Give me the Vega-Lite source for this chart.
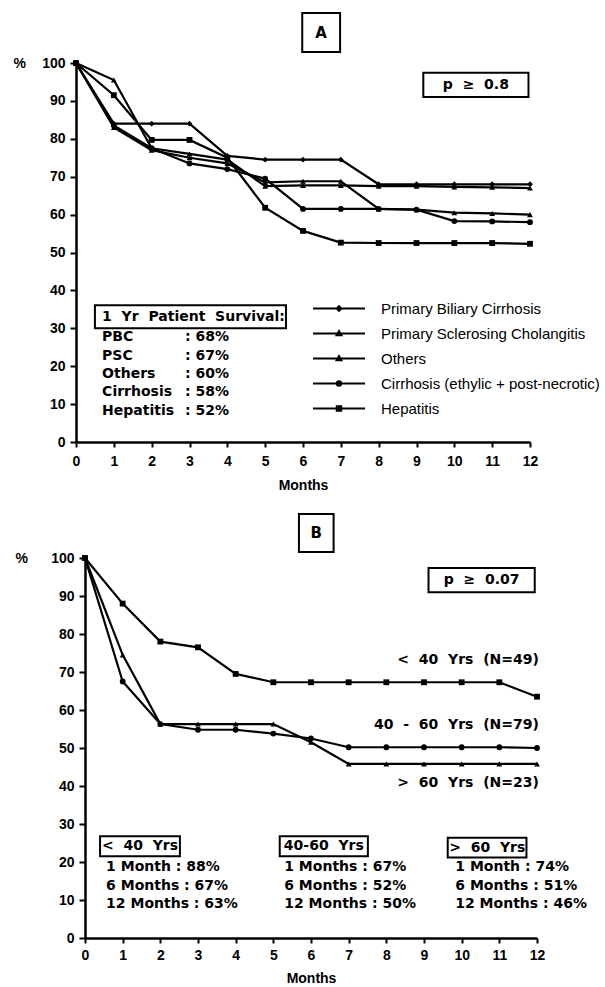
{
  "$schema": "https://vega.github.io/schema/vega-lite/v6.json",
  "background": "white",
  "padding": {"left": 13, "top": 11, "right": 0, "bottom": 4},
  "datasets": {
    "A": [
      {"series": "PBC", "month": 0, "surv": 100}, {"series": "PBC", "month": 1, "surv": 84}, {"series": "PBC", "month": 2, "surv": 84}, {"series": "PBC", "month": 3, "surv": 84}, {"series": "PBC", "month": 4, "surv": 75.5}, {"series": "PBC", "month": 5, "surv": 74.5}, {"series": "PBC", "month": 6, "surv": 74.5}, {"series": "PBC", "month": 7, "surv": 74.5}, {"series": "PBC", "month": 8, "surv": 68}, {"series": "PBC", "month": 9, "surv": 68}, {"series": "PBC", "month": 10, "surv": 68}, {"series": "PBC", "month": 11, "surv": 68}, {"series": "PBC", "month": 12, "surv": 68},
      {"series": "PSC", "month": 0, "surv": 100}, {"series": "PSC", "month": 1, "surv": 95.5}, {"series": "PSC", "month": 2, "surv": 77.5}, {"series": "PSC", "month": 3, "surv": 76}, {"series": "PSC", "month": 4, "surv": 74.5}, {"series": "PSC", "month": 5, "surv": 67.5}, {"series": "PSC", "month": 6, "surv": 67.7}, {"series": "PSC", "month": 7, "surv": 67.7}, {"series": "PSC", "month": 8, "surv": 67.5}, {"series": "PSC", "month": 9, "surv": 67.5}, {"series": "PSC", "month": 10, "surv": 67.3}, {"series": "PSC", "month": 11, "surv": 67.2}, {"series": "PSC", "month": 12, "surv": 67},
      {"series": "Others", "month": 0, "surv": 100}, {"series": "Others", "month": 1, "surv": 83}, {"series": "Others", "month": 2, "surv": 77}, {"series": "Others", "month": 3, "surv": 75}, {"series": "Others", "month": 4, "surv": 73.5}, {"series": "Others", "month": 5, "surv": 68.5}, {"series": "Others", "month": 6, "surv": 68.8}, {"series": "Others", "month": 7, "surv": 68.8}, {"series": "Others", "month": 8, "surv": 61.5}, {"series": "Others", "month": 9, "surv": 61.3}, {"series": "Others", "month": 10, "surv": 60.5}, {"series": "Others", "month": 11, "surv": 60.3}, {"series": "Others", "month": 12, "surv": 60},
      {"series": "Cirrhosis", "month": 0, "surv": 100}, {"series": "Cirrhosis", "month": 1, "surv": 83.5}, {"series": "Cirrhosis", "month": 2, "surv": 77.5}, {"series": "Cirrhosis", "month": 3, "surv": 73.5}, {"series": "Cirrhosis", "month": 4, "surv": 72}, {"series": "Cirrhosis", "month": 5, "surv": 69.5}, {"series": "Cirrhosis", "month": 6, "surv": 61.5}, {"series": "Cirrhosis", "month": 7, "surv": 61.5}, {"series": "Cirrhosis", "month": 8, "surv": 61.5}, {"series": "Cirrhosis", "month": 9, "surv": 61.3}, {"series": "Cirrhosis", "month": 10, "surv": 58.3}, {"series": "Cirrhosis", "month": 11, "surv": 58.2}, {"series": "Cirrhosis", "month": 12, "surv": 58},
      {"series": "Hepatitis", "month": 0, "surv": 100}, {"series": "Hepatitis", "month": 1, "surv": 91.5}, {"series": "Hepatitis", "month": 2, "surv": 79.7}, {"series": "Hepatitis", "month": 3, "surv": 79.7}, {"series": "Hepatitis", "month": 4, "surv": 75}, {"series": "Hepatitis", "month": 5, "surv": 61.8}, {"series": "Hepatitis", "month": 6, "surv": 55.7}, {"series": "Hepatitis", "month": 7, "surv": 52.6}, {"series": "Hepatitis", "month": 8, "surv": 52.5}, {"series": "Hepatitis", "month": 9, "surv": 52.5}, {"series": "Hepatitis", "month": 10, "surv": 52.5}, {"series": "Hepatitis", "month": 11, "surv": 52.5}, {"series": "Hepatitis", "month": 12, "surv": 52.3}
    ],
    "B": [
      {"series": "<40", "month": 0, "surv": 100}, {"series": "<40", "month": 1, "surv": 88}, {"series": "<40", "month": 2, "surv": 78}, {"series": "<40", "month": 3, "surv": 76.5}, {"series": "<40", "month": 4, "surv": 69.5}, {"series": "<40", "month": 5, "surv": 67.3}, {"series": "<40", "month": 6, "surv": 67.3}, {"series": "<40", "month": 7, "surv": 67.3}, {"series": "<40", "month": 8, "surv": 67.3}, {"series": "<40", "month": 9, "surv": 67.3}, {"series": "<40", "month": 10, "surv": 67.3}, {"series": "<40", "month": 11, "surv": 67.3}, {"series": "<40", "month": 12, "surv": 63.5},
      {"series": "40-60", "month": 0, "surv": 100}, {"series": "40-60", "month": 1, "surv": 67.5}, {"series": "40-60", "month": 2, "surv": 56.3}, {"series": "40-60", "month": 3, "surv": 54.8}, {"series": "40-60", "month": 4, "surv": 54.8}, {"series": "40-60", "month": 5, "surv": 53.8}, {"series": "40-60", "month": 6, "surv": 52.5}, {"series": "40-60", "month": 7, "surv": 50.2}, {"series": "40-60", "month": 8, "surv": 50.2}, {"series": "40-60", "month": 9, "surv": 50.2}, {"series": "40-60", "month": 10, "surv": 50.2}, {"series": "40-60", "month": 11, "surv": 50.2}, {"series": "40-60", "month": 12, "surv": 50},
      {"series": ">60", "month": 0, "surv": 100}, {"series": ">60", "month": 1, "surv": 74.5}, {"series": ">60", "month": 2, "surv": 56.3}, {"series": ">60", "month": 3, "surv": 56.3}, {"series": ">60", "month": 4, "surv": 56.3}, {"series": ">60", "month": 5, "surv": 56.3}, {"series": ">60", "month": 6, "surv": 51.5}, {"series": ">60", "month": 7, "surv": 45.8}, {"series": ">60", "month": 8, "surv": 45.8}, {"series": ">60", "month": 9, "surv": 45.8}, {"series": ">60", "month": 10, "surv": 45.8}, {"series": ">60", "month": 11, "surv": 45.8}, {"series": ">60", "month": 12, "surv": 45.8}
    ]
  },
  "columns": 1,
  "spacing": 20,
  "concat": [
    {
      "width": 454,
      "height": 379,
      "resolve": {"scale": {"shape": "independent"}},
      "layer": [
        {
          "data": {"name": "A"},
          "mark": {"type": "line", "color": "black", "strokeWidth": 2.2},
          "encoding": {
            "x": {"field": "month", "type": "quantitative", "scale": {"domain": [0, 12], "nice": false, "range": [-9, 445]},
                  "axis": {"values": [0,1,2,3,4,5,6,7,8,9,10,11,12], "title": "Months", "labelFlush": false, "labelOverlap": false, "tickSize": 5, "labelPadding": 7, "titlePadding": 10}},
            "y": {"field": "surv", "type": "quantitative", "scale": {"domain": [0, 100], "nice": false},
                  "axis": {"values": [0,10,20,30,40,50,60,70,80,90,100], "offset": 9, "title": "%", "titleAngle": 0, "titleX": -63, "titleY": 0, "titleAlign": "left", "titleBaseline": "middle", "tickSize": 6, "labelPadding": 5, "labelFlush": false, "labelOverlap": false}},
            "detail": {"field": "series"}
          }
        },
        {
          "data": {"name": "A"},
          "mark": {"type": "point", "filled": true, "opacity": 1, "size": 34, "color": "black"},
          "encoding": {
            "x": {"field": "month", "type": "quantitative",
                  "axis": {"values": [0,1,2,3,4,5,6,7,8,9,10,11,12], "title": "Months", "labelFlush": false, "labelOverlap": false, "tickSize": 5, "labelPadding": 7, "titlePadding": 10}},
            "y": {"field": "surv", "type": "quantitative",
                  "axis": {"values": [0,10,20,30,40,50,60,70,80,90,100], "offset": 9, "title": "%", "titleAngle": 0, "titleX": -63, "titleY": 0, "titleAlign": "left", "titleBaseline": "middle", "tickSize": 6, "labelPadding": 5, "labelFlush": false, "labelOverlap": false}},
            "shape": {"field": "series", "type": "nominal",
                      "scale": {"domain": ["PBC", "PSC", "Others", "Cirrhosis", "Hepatitis"], "range": ["diamond", "triangle-up", "triangle-up", "circle", "square"]},
                      "legend": null}
          }
        },
        {
          "data": {"values": [{"entry": "Primary Biliary Cirrhosis"}]},
          "transform": [{"filter": "false"}],
          "mark": {"type": "point", "filled": false, "opacity": 1, "color": "black", "strokeWidth": 2.2},
          "encoding": {
            "shape": {"field": "entry", "type": "nominal",
                      "scale": {"domain": ["Primary Biliary Cirrhosis", "Primary Sclerosing Cholangitis", "Others", "Cirrhosis (ethylic + post-necrotic)", "Hepatitis"],
                                "range": ["M-5.2,0H5.2M0,-0.45L0.45,0L0,0.45L-0.45,0Z", "M-5.2,0H5.2M0,-0.45L0.45,0.35H-0.45Z", "M-5.2,0H5.2M0,-0.45L0.45,0.35H-0.45Z", "M-5.2,0H5.2M0.42,0A0.42,0.42,0,1,1,-0.42,0A0.42,0.42,0,1,1,0.42,0Z", "M-5.2,0H5.2M-0.42,-0.42H0.42V0.42H-0.42Z"]},
                      "legend": {"orient": "none", "legendX": 246.5, "legendY": 238, "title": null, "padding": 0,
                                 "symbolSize": 100, "symbolStrokeWidth": 2.2, "symbolStrokeColor": "black", "symbolFillColor": "black", "symbolOpacity": 1,
                                 "labelFont": "Liberation Sans", "labelFontSize": 15, "labelColor": "black", "labelOffset": 34.5, "labelLimit": 400, "rowPadding": 9}}
          }
        },
        {
          "data": {"values": [{}]},
          "mark": {"type": "rect", "fillOpacity": 0, "stroke": "black", "strokeWidth": 2},
          "encoding": {"x": {"datum": 5.98, "axis": {"values": [0,1,2,3,4,5,6,7,8,9,10,11,12], "title": "Months", "labelFlush": false, "labelOverlap": false, "tickSize": 5, "labelPadding": 7, "titlePadding": 10}}, "x2": {"datum": 6.98},
                       "y": {"datum": 113.2, "axis": {"values": [0,10,20,30,40,50,60,70,80,90,100], "offset": 9, "title": "%", "titleAngle": 0, "titleX": -63, "titleY": 0, "titleAlign": "left", "titleBaseline": "middle", "tickSize": 6, "labelPadding": 5, "labelFlush": false, "labelOverlap": false}}, "y2": {"datum": 102.9}}
        },
        {
          "data": {"values": [{}]},
          "mark": {"type": "text", "text": "A", "fontSize": 15, "align": "center", "baseline": "middle"},
          "encoding": {"x": {"datum": 6.48, "axis": {"values": [0,1,2,3,4,5,6,7,8,9,10,11,12], "title": "Months", "labelFlush": false, "labelOverlap": false, "tickSize": 5, "labelPadding": 7, "titlePadding": 10}},
                       "y": {"datum": 108, "axis": {"values": [0,10,20,30,40,50,60,70,80,90,100], "offset": 9, "title": "%", "titleAngle": 0, "titleX": -63, "titleY": 0, "titleAlign": "left", "titleBaseline": "middle", "tickSize": 6, "labelPadding": 5, "labelFlush": false, "labelOverlap": false}}}
        },
        {
          "data": {"values": [{}]},
          "mark": {"type": "rect", "fillOpacity": 0, "stroke": "black", "strokeWidth": 2},
          "encoding": {"x": {"datum": 9.18, "axis": {"values": [0,1,2,3,4,5,6,7,8,9,10,11,12], "title": "Months", "labelFlush": false, "labelOverlap": false, "tickSize": 5, "labelPadding": 7, "titlePadding": 10}}, "x2": {"datum": 11.96},
                       "y": {"datum": 97.4, "axis": {"values": [0,10,20,30,40,50,60,70,80,90,100], "offset": 9, "title": "%", "titleAngle": 0, "titleX": -63, "titleY": 0, "titleAlign": "left", "titleBaseline": "middle", "tickSize": 6, "labelPadding": 5, "labelFlush": false, "labelOverlap": false}}, "y2": {"datum": 91}}
        },
        {
          "data": {"values": [{}]},
          "mark": {"type": "text", "text": "p \u00a0≥ \u00a00.8", "fontSize": 14, "align": "center", "baseline": "middle"},
          "encoding": {"x": {"datum": 10.57, "axis": {"values": [0,1,2,3,4,5,6,7,8,9,10,11,12], "title": "Months", "labelFlush": false, "labelOverlap": false, "tickSize": 5, "labelPadding": 7, "titlePadding": 10}},
                       "y": {"datum": 94.2, "axis": {"values": [0,10,20,30,40,50,60,70,80,90,100], "offset": 9, "title": "%", "titleAngle": 0, "titleX": -63, "titleY": 0, "titleAlign": "left", "titleBaseline": "middle", "tickSize": 6, "labelPadding": 5, "labelFlush": false, "labelOverlap": false}}}
        },
        {
          "data": {"values": [{}]},
          "mark": {"type": "rect", "fillOpacity": 0, "stroke": "black", "strokeWidth": 2},
          "encoding": {"x": {"datum": 0.5, "axis": {"values": [0,1,2,3,4,5,6,7,8,9,10,11,12], "title": "Months", "labelFlush": false, "labelOverlap": false, "tickSize": 5, "labelPadding": 7, "titlePadding": 10}}, "x2": {"datum": 5.55},
                       "y": {"datum": 36.1, "axis": {"values": [0,10,20,30,40,50,60,70,80,90,100], "offset": 9, "title": "%", "titleAngle": 0, "titleX": -63, "titleY": 0, "titleAlign": "left", "titleBaseline": "middle", "tickSize": 6, "labelPadding": 5, "labelFlush": false, "labelOverlap": false}}, "y2": {"datum": 30}}
        },
        {
          "data": {"values": [{}]},
          "mark": {"type": "text", "text": "1 \u00a0Yr \u00a0Patient \u00a0Survival:", "fontSize": 14, "align": "left", "baseline": "middle"},
          "encoding": {"x": {"datum": 0.69, "axis": {"values": [0,1,2,3,4,5,6,7,8,9,10,11,12], "title": "Months", "labelFlush": false, "labelOverlap": false, "tickSize": 5, "labelPadding": 7, "titlePadding": 10}},
                       "y": {"datum": 33.05, "axis": {"values": [0,10,20,30,40,50,60,70,80,90,100], "offset": 9, "title": "%", "titleAngle": 0, "titleX": -63, "titleY": 0, "titleAlign": "left", "titleBaseline": "middle", "tickSize": 6, "labelPadding": 5, "labelFlush": false, "labelOverlap": false}}}
        },
        {
          "data": {"values": [{}]},
          "mark": {"type": "text", "text": ["PBC", "PSC", "Others", "Cirrhosis", "Hepatitis"], "fontSize": 14, "lineHeight": 18.3, "align": "left", "baseline": "middle"},
          "encoding": {"x": {"datum": 0.69, "axis": {"values": [0,1,2,3,4,5,6,7,8,9,10,11,12], "title": "Months", "labelFlush": false, "labelOverlap": false, "tickSize": 5, "labelPadding": 7, "titlePadding": 10}},
                       "y": {"datum": 27.6, "axis": {"values": [0,10,20,30,40,50,60,70,80,90,100], "offset": 9, "title": "%", "titleAngle": 0, "titleX": -63, "titleY": 0, "titleAlign": "left", "titleBaseline": "middle", "tickSize": 6, "labelPadding": 5, "labelFlush": false, "labelOverlap": false}}}
        },
        {
          "data": {"values": [{}]},
          "mark": {"type": "text", "text": [": 68%", ": 67%", ": 60%", ": 58%", ": 52%"], "fontSize": 14, "lineHeight": 18.3, "align": "left", "baseline": "middle"},
          "encoding": {"x": {"datum": 2.88, "axis": {"values": [0,1,2,3,4,5,6,7,8,9,10,11,12], "title": "Months", "labelFlush": false, "labelOverlap": false, "tickSize": 5, "labelPadding": 7, "titlePadding": 10}},
                       "y": {"datum": 27.6, "axis": {"values": [0,10,20,30,40,50,60,70,80,90,100], "offset": 9, "title": "%", "titleAngle": 0, "titleX": -63, "titleY": 0, "titleAlign": "left", "titleBaseline": "middle", "tickSize": 6, "labelPadding": 5, "labelFlush": false, "labelOverlap": false}}}
        }
      ]
    },
    {
      "width": 452,
      "height": 380,
      "layer": [
        {
          "data": {"name": "B"},
          "mark": {"type": "line", "color": "black", "strokeWidth": 2.2},
          "encoding": {
            "x": {"field": "month", "type": "quantitative", "scale": {"domain": [0, 12], "nice": false},
                  "axis": {"values": [0,1,2,3,4,5,6,7,8,9,10,11,12], "title": "Months", "labelFlush": false, "labelOverlap": false, "tickSize": 5, "labelPadding": 5, "titlePadding": 9}},
            "y": {"field": "surv", "type": "quantitative", "scale": {"domain": [0, 100], "nice": false},
                  "axis": {"values": [0,10,20,30,40,50,60,70,80,90,100], "title": "%", "titleAngle": 0, "titleX": -70, "titleY": 0, "titleAlign": "left", "titleBaseline": "middle", "tickSize": 6, "labelPadding": 5, "labelFlush": false, "labelOverlap": false}},
            "detail": {"field": "series"}
          }
        },
        {
          "data": {"name": "B"},
          "mark": {"type": "point", "filled": true, "opacity": 1, "size": 34, "color": "black"},
          "encoding": {
            "x": {"field": "month", "type": "quantitative",
                  "axis": {"values": [0,1,2,3,4,5,6,7,8,9,10,11,12], "title": "Months", "labelFlush": false, "labelOverlap": false, "tickSize": 5, "labelPadding": 5, "titlePadding": 9}},
            "y": {"field": "surv", "type": "quantitative",
                  "axis": {"values": [0,10,20,30,40,50,60,70,80,90,100], "title": "%", "titleAngle": 0, "titleX": -70, "titleY": 0, "titleAlign": "left", "titleBaseline": "middle", "tickSize": 6, "labelPadding": 5, "labelFlush": false, "labelOverlap": false}},
            "shape": {"field": "series", "type": "nominal",
                      "scale": {"domain": ["<40", "40-60", ">60"], "range": ["square", "circle", "triangle-up"]},
                      "legend": null}
          }
        },
        {
          "data": {"values": [{}]},
          "mark": {"type": "rect", "fillOpacity": 0, "stroke": "black", "strokeWidth": 2},
          "encoding": {"x": {"datum": 5.68, "axis": {"values": [0,1,2,3,4,5,6,7,8,9,10,11,12], "title": "Months", "labelFlush": false, "labelOverlap": false, "tickSize": 5, "labelPadding": 5, "titlePadding": 9}}, "x2": {"datum": 6.6},
                       "y": {"datum": 111.6, "axis": {"values": [0,10,20,30,40,50,60,70,80,90,100], "title": "%", "titleAngle": 0, "titleX": -70, "titleY": 0, "titleAlign": "left", "titleBaseline": "middle", "tickSize": 6, "labelPadding": 5, "labelFlush": false, "labelOverlap": false}}, "y2": {"datum": 101.6}}
        },
        {
          "data": {"values": [{}]},
          "mark": {"type": "text", "text": "B", "fontSize": 15, "align": "center", "baseline": "middle"},
          "encoding": {"x": {"datum": 6.14, "axis": {"values": [0,1,2,3,4,5,6,7,8,9,10,11,12], "title": "Months", "labelFlush": false, "labelOverlap": false, "tickSize": 5, "labelPadding": 5, "titlePadding": 9}},
                       "y": {"datum": 106.6, "axis": {"values": [0,10,20,30,40,50,60,70,80,90,100], "title": "%", "titleAngle": 0, "titleX": -70, "titleY": 0, "titleAlign": "left", "titleBaseline": "middle", "tickSize": 6, "labelPadding": 5, "labelFlush": false, "labelOverlap": false}}}
        },
        {
          "data": {"values": [{}]},
          "mark": {"type": "rect", "fillOpacity": 0, "stroke": "black", "strokeWidth": 2},
          "encoding": {"x": {"datum": 9.12, "axis": {"values": [0,1,2,3,4,5,6,7,8,9,10,11,12], "title": "Months", "labelFlush": false, "labelOverlap": false, "tickSize": 5, "labelPadding": 5, "titlePadding": 9}}, "x2": {"datum": 11.94},
                       "y": {"datum": 97.4, "axis": {"values": [0,10,20,30,40,50,60,70,80,90,100], "title": "%", "titleAngle": 0, "titleX": -70, "titleY": 0, "titleAlign": "left", "titleBaseline": "middle", "tickSize": 6, "labelPadding": 5, "labelFlush": false, "labelOverlap": false}}, "y2": {"datum": 91}}
        },
        {
          "data": {"values": [{}]},
          "mark": {"type": "text", "text": "p \u00a0≥ \u00a00.07", "fontSize": 14, "align": "center", "baseline": "middle"},
          "encoding": {"x": {"datum": 10.53, "axis": {"values": [0,1,2,3,4,5,6,7,8,9,10,11,12], "title": "Months", "labelFlush": false, "labelOverlap": false, "tickSize": 5, "labelPadding": 5, "titlePadding": 9}},
                       "y": {"datum": 94.2, "axis": {"values": [0,10,20,30,40,50,60,70,80,90,100], "title": "%", "titleAngle": 0, "titleX": -70, "titleY": 0, "titleAlign": "left", "titleBaseline": "middle", "tickSize": 6, "labelPadding": 5, "labelFlush": false, "labelOverlap": false}}}
        },
        {
          "data": {"values": [{}]},
          "mark": {"type": "text", "text": "< \u00a040 \u00a0Yrs \u00a0(N=49)", "fontSize": 14, "align": "right", "baseline": "middle"},
          "encoding": {"x": {"datum": 12.05, "axis": {"values": [0,1,2,3,4,5,6,7,8,9,10,11,12], "title": "Months", "labelFlush": false, "labelOverlap": false, "tickSize": 5, "labelPadding": 5, "titlePadding": 9}},
                       "y": {"datum": 73.2, "axis": {"values": [0,10,20,30,40,50,60,70,80,90,100], "title": "%", "titleAngle": 0, "titleX": -70, "titleY": 0, "titleAlign": "left", "titleBaseline": "middle", "tickSize": 6, "labelPadding": 5, "labelFlush": false, "labelOverlap": false}}}
        },
        {
          "data": {"values": [{}]},
          "mark": {"type": "text", "text": "40 \u00a0- \u00a060 \u00a0Yrs \u00a0(N=79)", "fontSize": 14, "align": "right", "baseline": "middle"},
          "encoding": {"x": {"datum": 12.05, "axis": {"values": [0,1,2,3,4,5,6,7,8,9,10,11,12], "title": "Months", "labelFlush": false, "labelOverlap": false, "tickSize": 5, "labelPadding": 5, "titlePadding": 9}},
                       "y": {"datum": 56, "axis": {"values": [0,10,20,30,40,50,60,70,80,90,100], "title": "%", "titleAngle": 0, "titleX": -70, "titleY": 0, "titleAlign": "left", "titleBaseline": "middle", "tickSize": 6, "labelPadding": 5, "labelFlush": false, "labelOverlap": false}}}
        },
        {
          "data": {"values": [{}]},
          "mark": {"type": "text", "text": "> \u00a060 \u00a0Yrs \u00a0(N=23)", "fontSize": 14, "align": "right", "baseline": "middle"},
          "encoding": {"x": {"datum": 12.05, "axis": {"values": [0,1,2,3,4,5,6,7,8,9,10,11,12], "title": "Months", "labelFlush": false, "labelOverlap": false, "tickSize": 5, "labelPadding": 5, "titlePadding": 9}},
                       "y": {"datum": 40.9, "axis": {"values": [0,10,20,30,40,50,60,70,80,90,100], "title": "%", "titleAngle": 0, "titleX": -70, "titleY": 0, "titleAlign": "left", "titleBaseline": "middle", "tickSize": 6, "labelPadding": 5, "labelFlush": false, "labelOverlap": false}}}
        },
        {
          "data": {"values": [{}]},
          "mark": {"type": "rect", "fillOpacity": 0, "stroke": "black", "strokeWidth": 2},
          "encoding": {"x": {"datum": 0.4, "axis": {"values": [0,1,2,3,4,5,6,7,8,9,10,11,12], "title": "Months", "labelFlush": false, "labelOverlap": false, "tickSize": 5, "labelPadding": 5, "titlePadding": 9}}, "x2": {"datum": 2.52},
                       "y": {"datum": 26.8, "axis": {"values": [0,10,20,30,40,50,60,70,80,90,100], "title": "%", "titleAngle": 0, "titleX": -70, "titleY": 0, "titleAlign": "left", "titleBaseline": "middle", "tickSize": 6, "labelPadding": 5, "labelFlush": false, "labelOverlap": false}}, "y2": {"datum": 21.5}}
        },
        {
          "data": {"values": [{}]},
          "mark": {"type": "text", "text": "< \u00a040 \u00a0Yrs", "fontSize": 14, "align": "center", "baseline": "middle"},
          "encoding": {"x": {"datum": 1.46, "axis": {"values": [0,1,2,3,4,5,6,7,8,9,10,11,12], "title": "Months", "labelFlush": false, "labelOverlap": false, "tickSize": 5, "labelPadding": 5, "titlePadding": 9}},
                       "y": {"datum": 24.15, "axis": {"values": [0,10,20,30,40,50,60,70,80,90,100], "title": "%", "titleAngle": 0, "titleX": -70, "titleY": 0, "titleAlign": "left", "titleBaseline": "middle", "tickSize": 6, "labelPadding": 5, "labelFlush": false, "labelOverlap": false}}}
        },
        {
          "data": {"values": [{}]},
          "mark": {"type": "text", "text": ["1 Month : 88%", "6 Months : 67%", "12 Months : 63%"], "fontSize": 14, "lineHeight": 18.7, "align": "left", "baseline": "middle"},
          "encoding": {"x": {"datum": 0.56, "axis": {"values": [0,1,2,3,4,5,6,7,8,9,10,11,12], "title": "Months", "labelFlush": false, "labelOverlap": false, "tickSize": 5, "labelPadding": 5, "titlePadding": 9}},
                       "y": {"datum": 18.7, "axis": {"values": [0,10,20,30,40,50,60,70,80,90,100], "title": "%", "titleAngle": 0, "titleX": -70, "titleY": 0, "titleAlign": "left", "titleBaseline": "middle", "tickSize": 6, "labelPadding": 5, "labelFlush": false, "labelOverlap": false}}}
        },
        {
          "data": {"values": [{}]},
          "mark": {"type": "rect", "fillOpacity": 0, "stroke": "black", "strokeWidth": 2},
          "encoding": {"x": {"datum": 5.17, "axis": {"values": [0,1,2,3,4,5,6,7,8,9,10,11,12], "title": "Months", "labelFlush": false, "labelOverlap": false, "tickSize": 5, "labelPadding": 5, "titlePadding": 9}}, "x2": {"datum": 7.51},
                       "y": {"datum": 26.8, "axis": {"values": [0,10,20,30,40,50,60,70,80,90,100], "title": "%", "titleAngle": 0, "titleX": -70, "titleY": 0, "titleAlign": "left", "titleBaseline": "middle", "tickSize": 6, "labelPadding": 5, "labelFlush": false, "labelOverlap": false}}, "y2": {"datum": 21.5}}
        },
        {
          "data": {"values": [{}]},
          "mark": {"type": "text", "text": "40-60 \u00a0Yrs", "fontSize": 14, "align": "center", "baseline": "middle"},
          "encoding": {"x": {"datum": 6.34, "axis": {"values": [0,1,2,3,4,5,6,7,8,9,10,11,12], "title": "Months", "labelFlush": false, "labelOverlap": false, "tickSize": 5, "labelPadding": 5, "titlePadding": 9}},
                       "y": {"datum": 24.15, "axis": {"values": [0,10,20,30,40,50,60,70,80,90,100], "title": "%", "titleAngle": 0, "titleX": -70, "titleY": 0, "titleAlign": "left", "titleBaseline": "middle", "tickSize": 6, "labelPadding": 5, "labelFlush": false, "labelOverlap": false}}}
        },
        {
          "data": {"values": [{}]},
          "mark": {"type": "text", "text": ["1 Months : 67%", "6 Months : 52%", "12 Months : 50%"], "fontSize": 14, "lineHeight": 18.7, "align": "left", "baseline": "middle"},
          "encoding": {"x": {"datum": 5.29, "axis": {"values": [0,1,2,3,4,5,6,7,8,9,10,11,12], "title": "Months", "labelFlush": false, "labelOverlap": false, "tickSize": 5, "labelPadding": 5, "titlePadding": 9}},
                       "y": {"datum": 18.7, "axis": {"values": [0,10,20,30,40,50,60,70,80,90,100], "title": "%", "titleAngle": 0, "titleX": -70, "titleY": 0, "titleAlign": "left", "titleBaseline": "middle", "tickSize": 6, "labelPadding": 5, "labelFlush": false, "labelOverlap": false}}}
        },
        {
          "data": {"values": [{}]},
          "mark": {"type": "rect", "fillOpacity": 0, "stroke": "black", "strokeWidth": 2},
          "encoding": {"x": {"datum": 9.63, "axis": {"values": [0,1,2,3,4,5,6,7,8,9,10,11,12], "title": "Months", "labelFlush": false, "labelOverlap": false, "tickSize": 5, "labelPadding": 5, "titlePadding": 9}}, "x2": {"datum": 11.72},
                       "y": {"datum": 26.4, "axis": {"values": [0,10,20,30,40,50,60,70,80,90,100], "title": "%", "titleAngle": 0, "titleX": -70, "titleY": 0, "titleAlign": "left", "titleBaseline": "middle", "tickSize": 6, "labelPadding": 5, "labelFlush": false, "labelOverlap": false}}, "y2": {"datum": 21.2}}
        },
        {
          "data": {"values": [{}]},
          "mark": {"type": "text", "text": "> \u00a060 \u00a0Yrs", "fontSize": 14, "align": "center", "baseline": "middle"},
          "encoding": {"x": {"datum": 10.68, "axis": {"values": [0,1,2,3,4,5,6,7,8,9,10,11,12], "title": "Months", "labelFlush": false, "labelOverlap": false, "tickSize": 5, "labelPadding": 5, "titlePadding": 9}},
                       "y": {"datum": 23.8, "axis": {"values": [0,10,20,30,40,50,60,70,80,90,100], "title": "%", "titleAngle": 0, "titleX": -70, "titleY": 0, "titleAlign": "left", "titleBaseline": "middle", "tickSize": 6, "labelPadding": 5, "labelFlush": false, "labelOverlap": false}}}
        },
        {
          "data": {"values": [{}]},
          "mark": {"type": "text", "text": ["1 Month : 74%", "6 Months : 51%", "12 Months : 46%"], "fontSize": 14, "lineHeight": 18.7, "align": "left", "baseline": "middle"},
          "encoding": {"x": {"datum": 9.83, "axis": {"values": [0,1,2,3,4,5,6,7,8,9,10,11,12], "title": "Months", "labelFlush": false, "labelOverlap": false, "tickSize": 5, "labelPadding": 5, "titlePadding": 9}},
                       "y": {"datum": 18.7, "axis": {"values": [0,10,20,30,40,50,60,70,80,90,100], "title": "%", "titleAngle": 0, "titleX": -70, "titleY": 0, "titleAlign": "left", "titleBaseline": "middle", "tickSize": 6, "labelPadding": 5, "labelFlush": false, "labelOverlap": false}}}
        }
      ]
    }
  ],
  "config": {
    "view": {"stroke": null},
    "mark": {"color": "black"},
    "axis": {"domainColor": "black", "domainWidth": 2.5, "tickColor": "black", "tickWidth": 2, "grid": false, "labelOverlap": false,
             "labelFont": "Liberation Sans", "labelFontWeight": "bold", "labelFontSize": 14, "labelColor": "black",
             "titleFont": "Liberation Sans", "titleFontWeight": "bold", "titleFontSize": 14, "titleColor": "black"},
    "text": {"font": "DejaVu Sans", "fontWeight": "bold", "fontSize": 14, "color": "black"}
  }
}
